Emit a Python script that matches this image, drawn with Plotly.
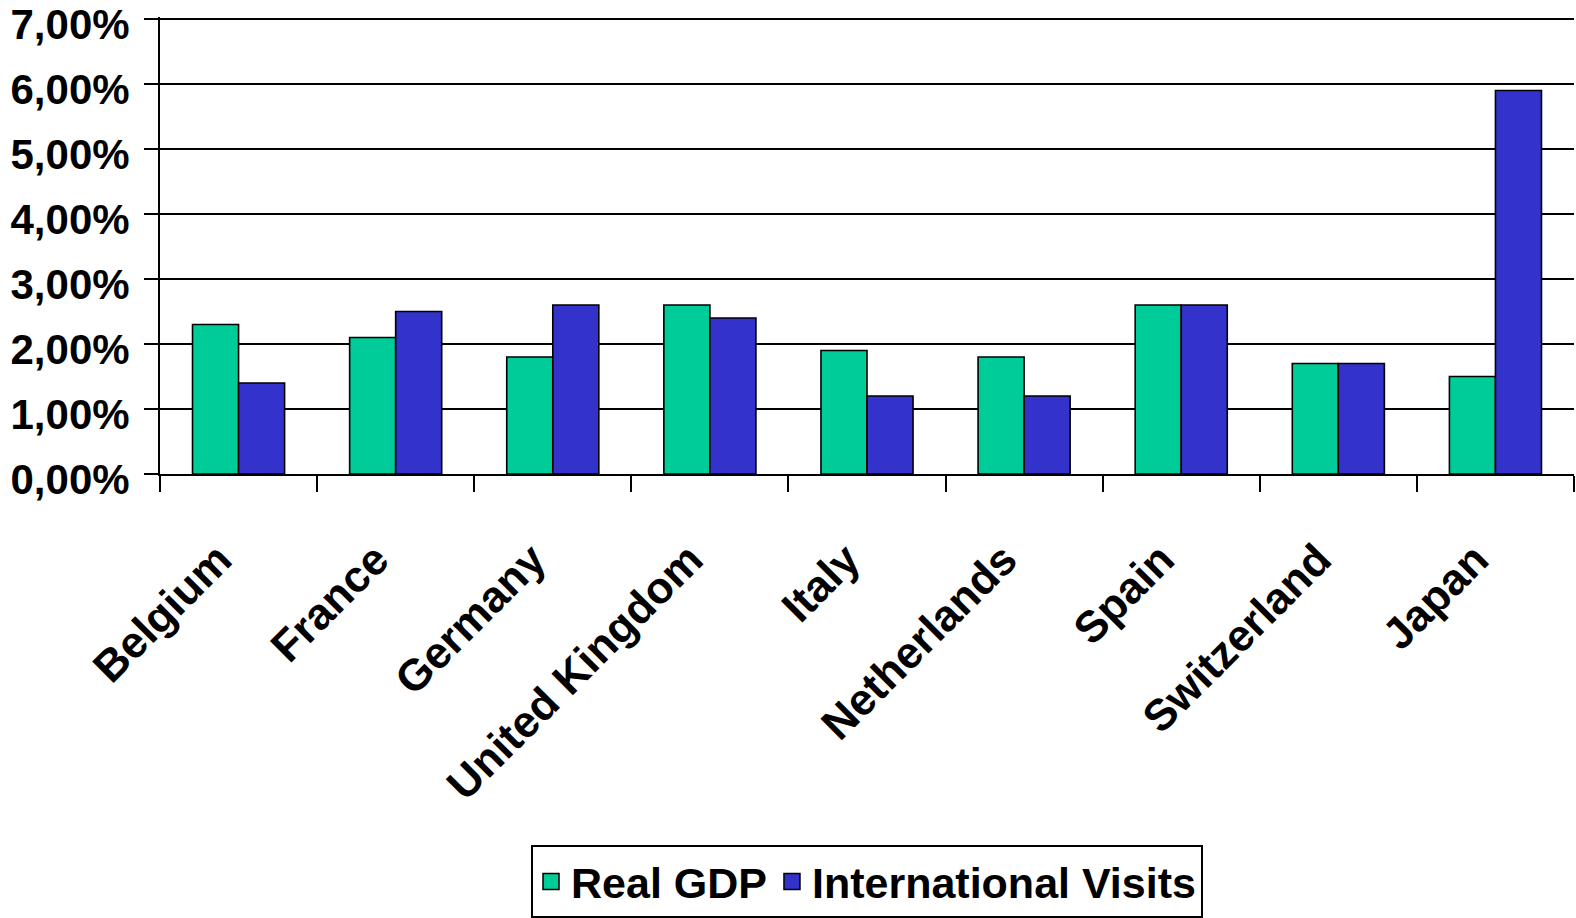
import plotly.graph_objects as go

categories = ["Belgium", "France", "Germany", "United Kingdom", "Italy",
              "Netherlands", "Spain", "Switzerland", "Japan"]
real_gdp = [0.023, 0.021, 0.018, 0.026, 0.019, 0.018, 0.026, 0.017, 0.015]
intl_visits = [0.014, 0.025, 0.026, 0.024, 0.012, 0.012, 0.026, 0.017, 0.059]
y_ticks = [0.0, 0.01, 0.02, 0.03, 0.04, 0.05, 0.06, 0.07]
series_names = ["Real GDP", "International Visits"]
colors = ["#00CC99", "#3333CC"]

FONT = "Liberation Sans, Arial, sans-serif"

fig = go.Figure()
for name, vals, col in zip(series_names, [real_gdp, intl_visits], colors):
    fig.add_trace(go.Bar(
        x=categories, y=vals, name=name, showlegend=False, legendgroup=name,
        marker=dict(color=col, line=dict(color="black", width=1.6)),
    ))
# legend-only entries with larger square swatches
for name, col in zip(series_names, colors):
    fig.add_trace(go.Scatter(
        x=[None], y=[None], mode="markers", name=name, legendgroup=name,
        marker=dict(symbol="square", size=16, color=col,
                    line=dict(color="black", width=1.5)),
    ))

fig.update_layout(
    width=1576, height=918,
    margin=dict(l=160, r=2, t=17, b=444),
    paper_bgcolor="white", plot_bgcolor="white",
    separators=", ",
    barmode="group", bargap=0.414, bargroupgap=0,
    font=dict(family=FONT, color="black", size=42, weight="bold"),
    showlegend=True,
    legend=dict(
        orientation="h", xanchor="center", x=0.5,
        yref="container", yanchor="bottom", y=0,
        bordercolor="black", borderwidth=2, bgcolor="white",
        font=dict(family=FONT, size=43, color="black", weight="bold"),
        itemwidth=30, tracegroupgap=0,
    ),
)

fig.update_yaxes(
    range=[0, 0.0703], tickmode="array", tickvals=y_ticks, tickformat=".2%",
    showgrid=True, gridcolor="black", gridwidth=2,
    showline=True, linecolor="black", linewidth=2,
    ticks="outside", ticklen=14, tickwidth=2, tickcolor="black",
    ticklabelstandoff=6, ticklabelshift=5, ticklabeloverflow="allow",
    automargin=False,
    tickfont=dict(family=FONT, size=42, color="black", weight="bold"),
    zeroline=False,
)
fig.update_xaxes(
    showline=True, linecolor="black", linewidth=2, automargin=False,
    ticks="outside", tickson="boundaries", ticklen=16, tickwidth=2, tickcolor="black",
    tickangle=-45, ticklabelstandoff=40, ticklabelshift=-20,
    tickfont=dict(family=FONT, size=44, color="black", weight="bold"),
)

fig.write_html("out.html")
